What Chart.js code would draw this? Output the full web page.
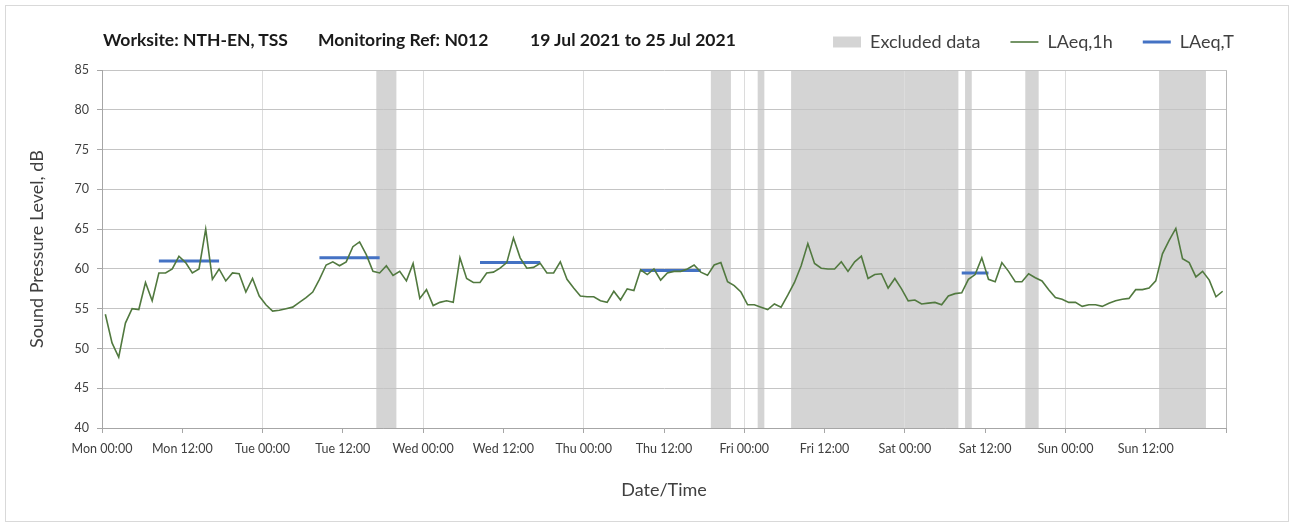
<!DOCTYPE html>
<html>
<head>
<meta charset="utf-8">
<script src="https://cdn.jsdelivr.net/npm/chart.js@4.4.1/dist/chart.umd.min.js"></script>
<style>
  body { margin: 0; background: #fff; font-family: Lato, "Open Sans", sans-serif; }
  #wrap { position: relative; width: 1295px; height: 526px; }
  #frame { position: absolute; left: 5px; top: 5px; width: 1282px; height: 515px; border: 1px solid #d9d9d9; }
  #noiseChart { position: absolute; left: 0; top: 0; }
  .ttl { position: absolute; top: 29px; font-weight: bold; font-size: 17.5px; color: #1a1a1a; white-space: nowrap; }
</style>
</head>
<body>
<div id="wrap">
  <div id="frame"></div>
  <canvas id="noiseChart" width="1295" height="526"></canvas>
  <div class="ttl" style="left:103px">Worksite: NTH-EN, TSS</div>
  <div class="ttl" style="left:318px">Monitoring Ref: N012</div>
  <div class="ttl" style="left:530px">19 Jul 2021 to 25 Jul 2021</div>
</div>
<script>
// x tick labels, one every 12 hours
const tickLabels = ['Mon 00:00', 'Mon 12:00', 'Tue 00:00', 'Tue 12:00', 'Wed 00:00', 'Wed 12:00', 'Thu 00:00',
  'Thu 12:00', 'Fri 00:00', 'Fri 12:00', 'Sat 00:00', 'Sat 12:00', 'Sun 00:00', 'Sun 12:00'];

// hourly LAeq,1h (dB), plotted at mid-hour from Mon 00:30
const laeq1h = [
  54.3, 50.7, 48.9, 53.2, 55.0, 54.9, 58.3, 56.0, 59.5, 59.5,
  60.0, 61.6, 60.8, 59.5, 60.0, 65.0, 58.7, 60.0, 58.5, 59.5,
  59.4, 57.1, 58.8, 56.6, 55.5, 54.7, 54.8, 55.0, 55.2, 55.8,
  56.4, 57.1, 58.7, 60.5, 60.9, 60.4, 60.9, 62.8, 63.4, 61.8,
  59.7, 59.5, 60.4, 59.2, 59.7, 58.5, 60.7, 56.3, 57.4, 55.4,
  55.8, 56.0, 55.8, 61.4, 58.8, 58.3, 58.3, 59.5, 59.6, 60.1,
  60.8, 63.9, 61.4, 60.1, 60.2, 60.7, 59.5, 59.5, 60.9, 58.7,
  57.6, 56.6, 56.5, 56.5, 56.0, 55.8, 57.2, 56.1, 57.5, 57.3,
  59.9, 59.3, 60.0, 58.6, 59.5, 59.7, 59.7, 60.0, 60.5, 59.6,
  59.2, 60.5, 60.8, 58.4, 57.9, 57.1, 55.5, 55.5, 55.2, 54.9,
  55.6, 55.2, 56.7, 58.3, 60.4, 63.2, 60.7, 60.1, 60.0, 60.0,
  60.9, 59.7, 60.9, 61.6, 58.8, 59.3, 59.4, 57.6, 58.8, 57.5,
  56.0, 56.1, 55.6, 55.7, 55.8, 55.5, 56.6, 56.9, 57.0, 58.7,
  59.3, 61.4, 58.7, 58.4, 60.8, 59.7, 58.4, 58.4, 59.4, 58.9,
  58.5, 57.4, 56.4, 56.2, 55.8, 55.8, 55.3, 55.5, 55.5, 55.3,
  55.7, 56.0, 56.2, 56.3, 57.4, 57.4, 57.6, 58.5, 61.9, 63.6,
  65.1, 61.3, 60.8, 59.0, 59.7, 58.6, 56.5, 57.2
];

// LAeq,T daytime periods (hours from Mon 00:00)
const laeqTStart = [8.5, 32.5, 56.5, 80.5, 128.5];
const laeqTEnd = [17.5, 41.5, 65.5, 89.5, 132.5];
const laeqT = [61.0, 61.4, 60.8, 59.8, 59.5];

// excluded data periods (hours from Mon 00:00)
const excludedStart = [41, 91, 98, 103, 129, 138, 158];
const excludedEnd = [44, 94, 99, 128, 130, 140, 165];

const GREEN = '#51793f';
const BLUE = '#4472c4';
const GREY = '#d4d4d4';
const TXT = '#404040';

const hourlyPoints = laeq1h.map((v, i) => ({ x: i + 0.5, y: v }));
const periodPoints = [];
laeqT.forEach((v, i) => {
  periodPoints.push({ x: laeqTStart[i], y: v }, { x: laeqTEnd[i], y: v }, { x: laeqTEnd[i], y: null });
});

// shaded bands, drawn before the grid so gridlines sit on top
const excludedBands = {
  id: 'excludedBands',
  beforeDraw(chart) {
    const { ctx, chartArea, scales } = chart;
    ctx.save();
    ctx.fillStyle = GREY;
    excludedStart.forEach((s, i) => {
      const x1 = scales.x.getPixelForValue(s);
      const x2 = scales.x.getPixelForValue(excludedEnd[i]);
      ctx.fillRect(x1, chartArea.top, x2 - x1, chartArea.bottom - chartArea.top);
    });
    ctx.restore();
  }
};

new Chart(document.getElementById('noiseChart'), {
  type: 'line',
  data: {
    datasets: [
      { label: 'Excluded data', data: [], backgroundColor: GREY, borderColor: GREY },
      { label: 'LAeq,1h', data: hourlyPoints, borderColor: GREEN, borderWidth: 1.6, pointRadius: 0, tension: 0 },
      { label: 'LAeq,T', data: periodPoints, borderColor: BLUE, borderWidth: 3, pointRadius: 0, spanGaps: false }
    ]
  },
  options: {
    responsive: false,
    animation: false,
    layout: { padding: { left: 22, right: 31, top: 3, bottom: 21 } },
    plugins: {
      // empty title used as a spacer between legend and plot
      title: { display: true, text: '', weight: 500, font: { size: 1 }, padding: { top: 8, bottom: 0 } },
      tooltip: { enabled: false },
      legend: {
        display: true,
        position: 'top',
        align: 'end',
        labels: {
          color: TXT,
          font: { family: 'Lato', size: 18 },
          usePointStyle: true,
          pointStyleWidth: 28,
          boxWidth: 28,
          boxHeight: 11,
          padding: 30,
          generateLabels: () => [
            { text: 'Excluded data', fillStyle: GREY, strokeStyle: GREY, lineWidth: 0, pointStyle: 'rect', fontColor: TXT, datasetIndex: 0 },
            { text: 'LAeq,1h', fillStyle: GREEN, strokeStyle: GREEN, lineWidth: 1.6, pointStyle: 'line', fontColor: TXT, datasetIndex: 1 },
            { text: 'LAeq,T', fillStyle: BLUE, strokeStyle: BLUE, lineWidth: 3, pointStyle: 'line', fontColor: TXT, datasetIndex: 2 }
          ]
        }
      }
    },
    scales: {
      x: {
        type: 'linear',
        min: 0,
        max: 168,
        afterFit: s => { s.height = 77; },
        ticks: {
          stepSize: 12,
          autoSkip: false,
          maxRotation: 0,
          padding: 8,
          color: TXT,
          font: { family: 'Lato', size: 12.5 },
          callback: v => tickLabels[v / 12] || ''
        },
        grid: {
          color: c => (c.tick && c.tick.value % 24 === 0 ? (c.tick.value === 168 ? '#b8b8b8' : '#dcdcdc') : 'rgba(0,0,0,0)'),
          tickColor: '#a6a6a6',
          tickLength: 5
        },
        border: { color: '#a6a6a6' },
        title: { display: true, text: 'Date/Time', color: TXT, font: { family: 'Lato', size: 18 }, padding: { top: 0, bottom: 4 } }
      },
      y: {
        min: 40,
        max: 85,
        afterFit: s => { s.width = 80; },
        ticks: { stepSize: 5, padding: 8, color: TXT, font: { family: 'Lato', size: 12.5 } },
        grid: { color: '#c4c4c4', tickColor: '#a6a6a6', tickLength: 5 },
        border: { color: '#a6a6a6' },
        title: { display: true, text: 'Sound Pressure Level, dB', color: TXT, font: { family: 'Lato', size: 18 }, padding: 4 }
      },
      // blank right-hand box so the legend can run past the plot edge
      yRight: {
        position: 'right',
        afterFit: s => { s.width = 38; },
        ticks: { display: false },
        grid: { display: false },
        border: { display: false }
      }
    }
  },
  plugins: [excludedBands]
});
</script>
</body>
</html>
